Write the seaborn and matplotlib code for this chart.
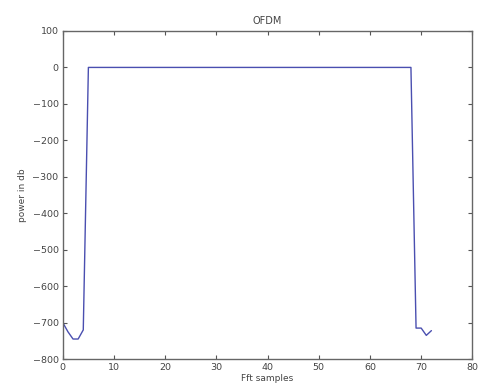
import matplotlib
matplotlib.use("Agg")
import matplotlib.pyplot as plt
import seaborn as sns
import pandas as pd

# FFT sample index and power (dB) at the breakpoints of the spectrum
samples = [0, 1, 2, 3, 4, 5, 68, 69, 70, 71, 72]
power_db = [-700, -725, -745, -745, -720, 0, 0, -715, -715, -735, -722]

x_ticks = list(range(0, 81, 10))
y_ticks = list(range(-800, 101, 100))

sns.set_style("white")
plt.rcParams["font.family"] = ["DejaVu Sans"]

df = pd.DataFrame({"sample": samples, "power": power_db})

fig = plt.figure(figsize=(4.83, 3.92), dpi=100)
ax = fig.add_axes([0.130, 0.084, 0.848, 0.837])

sns.lineplot(data=df, x="sample", y="power", ax=ax, color="#4a4fb0", linewidth=1.0)

ax.set_xlim(0, 80)
ax.set_ylim(-800, 100)
ax.set_xticks(x_ticks)
ax.set_yticks(y_ticks)
ax.tick_params(direction="in", length=3, width=0.8, colors="#555555",
               labelsize=6.8, labelcolor="#444444", top=True, right=True,
               bottom=True, left=True, pad=3)
for s in ax.spines.values():
    s.set_color("#666666")
    s.set_linewidth(1.0)

ax.set_title("OFDM", fontsize=7, color="#444444", pad=5)
ax.set_xlabel("Fft samples", fontsize=6.5, color="#444444", labelpad=1)
ax.set_ylabel("power in db", fontsize=6.5, color="#444444", labelpad=4)

fig.savefig("out.png", dpi=100)
